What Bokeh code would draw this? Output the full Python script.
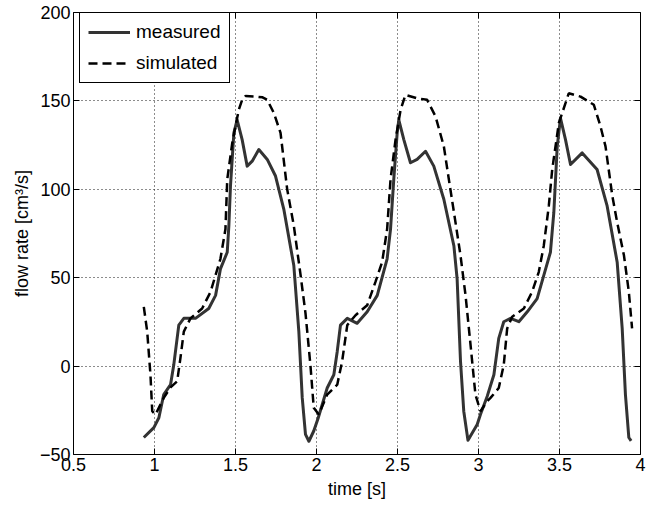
from bokeh.plotting import figure
from bokeh.models import LinearAxis, FixedTicker, Legend, LegendItem, Range1d
from bokeh.embed import file_html
from bokeh.resources import INLINE

# measured flow rate
t_meas = [0.934, 0.996, 1.027, 1.057, 1.099, 1.119, 1.150, 1.181, 1.253, 1.335,
          1.377, 1.407, 1.449, 1.459, 1.469, 1.490, 1.510, 1.541, 1.572, 1.603,
          1.644, 1.696, 1.747, 1.798, 1.860, 1.891, 1.912, 1.932, 1.953, 1.983,
          2.010, 2.066, 2.107, 2.128, 2.148, 2.190, 2.251, 2.313, 2.375, 2.436,
          2.457, 2.477, 2.498, 2.508, 2.539, 2.580, 2.621, 2.673, 2.724, 2.786,
          2.848, 2.868, 2.889, 2.909, 2.935, 2.992, 3.012, 3.054, 3.095, 3.125,
          3.156, 3.198, 3.249, 3.301, 3.362, 3.403, 3.444, 3.465, 3.486, 3.506,
          3.537, 3.568, 3.640, 3.732, 3.794, 3.856, 3.887, 3.907, 3.928, 3.942]
q_meas = [-40.4, -34.8, -29.2, -16.1, -10.5, 0.7, 23.2, 27.0, 27.0, 32.6,
          40.0, 55.0, 64.4, 79.4, 101.9, 131.9, 139.3, 128.1, 113.1, 115.9,
          122.5, 116.9, 107.5, 88.8, 56.9, 19.5, -18.0, -38.6, -42.5, -36.7,
          -29.5, -12.4, -4.9, 8.3, 23.2, 27.0, 24.2, 30.7, 40.0, 60.7,
          77.5, 105.6, 131.9, 139.3, 128.1, 115.0, 116.9, 121.5, 113.1, 94.4,
          68.1, 49.4, 2.6, -25.5, -42.0, -33.0, -27.4, -17.0, -4.9, 15.7,
          25.1, 27.0, 25.1, 30.7, 38.2, 51.3, 64.4, 86.9, 124.3, 140.3,
          128.1, 114.0, 120.6, 111.2, 90.6, 58.8, 21.3, -16.1, -40.4, -42.3]

# simulated flow rate
t_sim = [0.934, 0.955, 0.975, 0.986, 1.006, 1.057, 1.099, 1.140, 1.160, 1.181,
         1.222, 1.294, 1.346, 1.407, 1.438, 1.449, 1.480, 1.520, 1.541, 1.562,
         1.620, 1.667, 1.696, 1.737, 1.778, 1.819, 1.860, 1.901, 1.932, 1.963,
         1.983, 2.014, 2.066, 2.128, 2.158, 2.190, 2.241, 2.313, 2.364, 2.405,
         2.436, 2.457, 2.488, 2.519, 2.549, 2.621, 2.683, 2.735, 2.786, 2.817,
         2.858, 2.889, 2.920, 2.951, 2.981, 3.012, 3.054, 3.074, 3.125, 3.156,
         3.177, 3.208, 3.280, 3.331, 3.372, 3.403, 3.434, 3.455, 3.496, 3.537,
         3.557, 3.630, 3.712, 3.753, 3.784, 3.826, 3.856, 3.898, 3.928, 3.948]
q_sim = [33.5, 19.5, -4.9, -25.5, -27.4, -18.0, -12.0, -8.6, 4.5, 19.5,
         27.0, 32.6, 42.0, 60.7, 77.5, 105.6, 126.2, 144.9, 150.6, 152.8,
         152.5, 152.0, 150.6, 143.1, 131.9, 100.0, 79.4, 52.0, 30.0, 0.0,
         -23.6, -27.4, -16.1, -10.5, 2.6, 23.2, 28.8, 34.4, 47.6, 58.8,
         77.5, 105.6, 128.1, 144.9, 153.4, 151.5, 150.6, 141.2, 124.3, 105.6,
         81.3, 62.5, 40.0, 11.9, -16.1, -25.5, -19.8, -18.0, -12.4, 0.7,
         21.3, 27.9, 32.6, 42.0, 53.2, 68.1, 90.6, 111.2, 137.5, 148.7,
         154.3, 152.4, 147.8, 135.6, 124.3, 96.3, 81.3, 62.5, 42.0, 21.3]

x_ticks = [0.5, 1, 1.5, 2, 2.5, 3, 3.5, 4]
x_tick_labels = ["0.5", "1", "1.5", "2", "2.5", "3", "3.5", "4"]
y_ticks = [-50, 0, 50, 100, 150, 200]
y_tick_labels = ["\u221250", "0", "50", "100", "150", "200"]

FONT = "Liberation Sans"

p = figure(width=648, height=501, x_range=Range1d(0.5, 4), y_range=Range1d(-50, 200),
           output_backend="svg", toolbar_location=None,
           min_border_left=73, min_border_right=8, min_border_top=12, min_border_bottom=44)
p.background_fill_color = "white"
p.border_fill_color = "white"
p.outline_line_color = "black"
p.outline_line_alpha = 1.0
p.outline_line_width = 1

r1 = p.line(t_meas, q_meas, line_color="#333333", line_width=3, line_join="round")
r2 = p.line(t_sim, q_sim, line_color="black", line_width=2.5, line_dash="9 5")

for ax, ticks, labels in ((p.xaxis[0], x_ticks, x_tick_labels), (p.yaxis[0], y_ticks, y_tick_labels)):
    ax.ticker = FixedTicker(ticks=ticks)
    ax.major_label_overrides = {t: l for t, l in zip(ticks, labels)}
    ax.major_tick_in = 6
    ax.major_tick_out = 0
    ax.minor_tick_line_color = None
    ax.axis_line_color = None
    ax.major_label_text_font = FONT
    ax.major_label_text_font_size = "18px"
    ax.major_label_text_color = "black"
    ax.major_label_standoff = 3
    ax.axis_label_text_font = FONT
    ax.axis_label_text_font_size = "18px"
    ax.axis_label_text_font_style = "normal"
    ax.axis_label_text_color = "black"
    ax.axis_label_standoff = 5

p.xaxis.axis_label = "time [s]"
p.yaxis.axis_label = "flow rate [cm\u00b3/s]"

for loc, ticks in (("above", x_ticks), ("right", y_ticks)):
    a = LinearAxis(ticker=FixedTicker(ticks=ticks),
                   major_label_overrides={t: "" for t in ticks},
                   major_label_text_font_size="1px",
                   major_tick_in=6, major_tick_out=0, minor_tick_line_color=None,
                   axis_line_color=None, major_label_standoff=0)
    p.add_layout(a, loc)

for g in (p.xgrid[0], p.ygrid[0]):
    g.grid_line_color = "black"
    g.grid_line_dash = "1 3"
    g.grid_line_width = 1
    g.grid_line_alpha = 0.9

legend = Legend(items=[LegendItem(label="measured", renderers=[r1]),
                       LegendItem(label="simulated", renderers=[r2])],
                location=(6, 371))
legend.label_text_font = FONT
legend.label_text_font_size = "19px"
legend.label_text_color = "black"
legend.glyph_width = 42
legend.glyph_height = 20
legend.label_height = 20
legend.label_standoff = 6
legend.spacing = 9
legend.padding = 8
legend.margin = 0
legend.border_line_color = "black"
legend.border_line_width = 1
legend.border_line_alpha = 1
legend.background_fill_color = "white"
legend.background_fill_alpha = 1
p.add_layout(legend)

open("out.html", "w").write(file_html(p, INLINE))
